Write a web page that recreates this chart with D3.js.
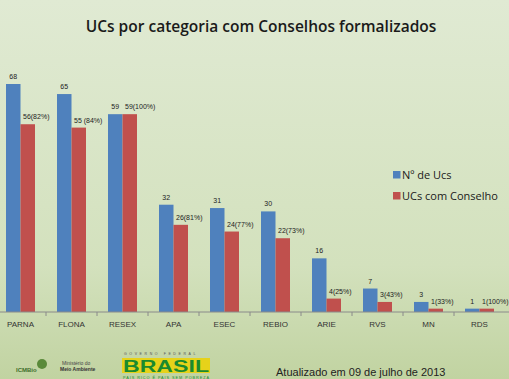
<!DOCTYPE html>
<html><head><meta charset="utf-8">
<script src="https://cdn.jsdelivr.net/npm/d3@7"></script>
<style>body{margin:0;padding:0;overflow:hidden}</style>
</head><body>
<svg id="c" width="509" height="379"></svg>
<script>
const categories = ["PARNA","FLONA","RESEX","APA","ESEC","REBIO","ARIE","RVS","MN","RDS"];
const totalUCs = [68,65,59,32,31,30,16,7,3,1];
const withCouncil = [56,55,59,26,24,22,4,3,1,1];
const totalLabels = ["68","65","59","32","31","30","16","7","3","1"];
const councilLabels = ["56(82%)","55 (84%)","59(100%)","26(81%)","24(77%)","22(73%)","4(25%)","3(43%)","1(33%)","1(100%)"];
const seriesNames = ["Nº de Ucs","UCs com Conselho"];
const colors = ["#4f81bd","#c0504d"];

const svg = d3.select("#c");
const W = 509, H = 379;
const defs = svg.append("defs");
const g = defs.append("linearGradient").attr("id","bg").attr("x1",0).attr("y1",0).attr("x2",0).attr("y2",1);
g.append("stop").attr("offset","0%").attr("stop-color","#e0ead3");
g.append("stop").attr("offset","70%").attr("stop-color","#d3e1bd");
g.append("stop").attr("offset","100%").attr("stop-color","#c1d3a1");
svg.append("rect").attr("width",W).attr("height",H).attr("fill","url(#bg)");

svg.append("text").attr("x",261).attr("y",32).attr("text-anchor","middle")
  .attr("font-family","'Open Sans', sans-serif").attr("font-weight","600").attr("font-size",15.5)
  .attr("fill","#1a1a1a").text("UCs por categoria com Conselhos formalizados");

const base = 312;
const x = d3.scaleBand().domain(categories).range([-5,505]).paddingInner(0).paddingOuter(0);
const y = d3.scaleLinear().domain([0,68]).range([base,84]);
const bw = 14.5;

const groups = svg.append("g").selectAll("g").data(categories).join("g")
  .attr("transform", d => `translate(${x(d)+x.bandwidth()/2},0)`);

groups.append("rect").attr("x",-bw).attr("width",bw)
  .attr("y",(d,i)=>y(totalUCs[i])).attr("height",(d,i)=>base-y(totalUCs[i])).attr("fill",colors[0]);
groups.append("rect").attr("x",0).attr("width",bw)
  .attr("y",(d,i)=>y(withCouncil[i])).attr("height",(d,i)=>base-y(withCouncil[i])).attr("fill",colors[1]);

groups.append("text").attr("x",-bw/2).attr("y",(d,i)=>y(totalUCs[i])-5)
  .attr("text-anchor","middle").attr("font-family","'Liberation Sans', sans-serif").attr("font-size",7)
  .attr("fill","#222").text((d,i)=>totalLabels[i]);
groups.append("text").attr("x",2.5).attr("y",(d,i)=>y(withCouncil[i])-5)
  .attr("text-anchor","start").attr("font-family","'Liberation Sans', sans-serif").attr("font-size",7)
  .attr("fill","#222").text((d,i)=>councilLabels[i]);

// axis
const axis = d3.axisBottom(x).tickSize(0).tickPadding(9);
const ax = svg.append("g").attr("transform",`translate(0,${base})`).call(axis);
ax.select(".domain").attr("stroke","#8a8a8a").attr("d",`M0,0H509`);
ax.selectAll("text").attr("font-family","'Liberation Sans', sans-serif").attr("font-size",8).attr("fill","#333");
ax.selectAll(".bd").data(categories.slice(1)).join("line").attr("class","bd")
  .attr("x1",d=>x(d)).attr("x2",d=>x(d)).attr("y1",0).attr("y2",4).attr("stroke","#8a8a8a");

// legend
const lg = svg.append("g").attr("transform","translate(393,0)");
seriesNames.forEach((s,i)=>{
  lg.append("rect").attr("x",0).attr("y",171+i*21).attr("width",7.5).attr("height",7.5).attr("fill",colors[i]);
  lg.append("text").attr("x",9).attr("y",178.5+i*21).attr("font-family","'Open Sans', sans-serif")
    .attr("font-size",11).attr("fill","#1a1a1a").text(s);
});

// footer
svg.append("text").attr("x",276).attr("y",376).attr("font-family","'Liberation Sans', sans-serif")
  .attr("font-size",11).attr("fill","#222").text("Atualizado em 09 de julho de 2013");

// logos (approximate)
const lo = svg.append("g");
lo.append("text").attr("x",16).attr("y",372).attr("font-family","'Liberation Sans', sans-serif").attr("font-weight","bold")
  .attr("font-size",6).attr("fill","#3c6e2a").text("ICMBio");
lo.append("circle").attr("cx",42).attr("cy",364).attr("r",5).attr("fill","#5a8a3a");
lo.append("text").attr("x",62).attr("y",365).attr("font-family","'Liberation Sans', sans-serif")
  .attr("font-size",5).attr("fill","#444").text("Ministério do");
lo.append("text").attr("x",60).attr("y",371).attr("font-family","'Liberation Sans', sans-serif").attr("font-weight","bold")
  .attr("font-size",5).attr("fill","#333").text("Meio Ambiente");
lo.append("text").attr("x",124).attr("y",355).attr("font-family","'Liberation Sans', sans-serif")
  .attr("font-size",3.5).attr("letter-spacing",2.6).attr("fill","#555").text("GOVERNO FEDERAL");
lo.append("rect").attr("x",122).attr("y",358).attr("width",88).attr("height",15).attr("fill","#e6d21a");
lo.append("text").attr("x",166).attr("y",371.5).attr("text-anchor","middle").attr("font-family","'Liberation Sans', sans-serif").attr("font-weight","900")
  .attr("font-size",16).attr("textLength",86).attr("lengthAdjust","spacingAndGlyphs").attr("fill","#1a8a2e").text("BRASIL");
lo.append("text").attr("x",123).attr("y",378.6).attr("font-family","'Liberation Sans', sans-serif")
  .attr("font-size",3.8).attr("textLength",86).attr("fill","#1a8a2e").text("PAÍS RICO É PAÍS SEM POBREZA");
</script>
</body></html>
